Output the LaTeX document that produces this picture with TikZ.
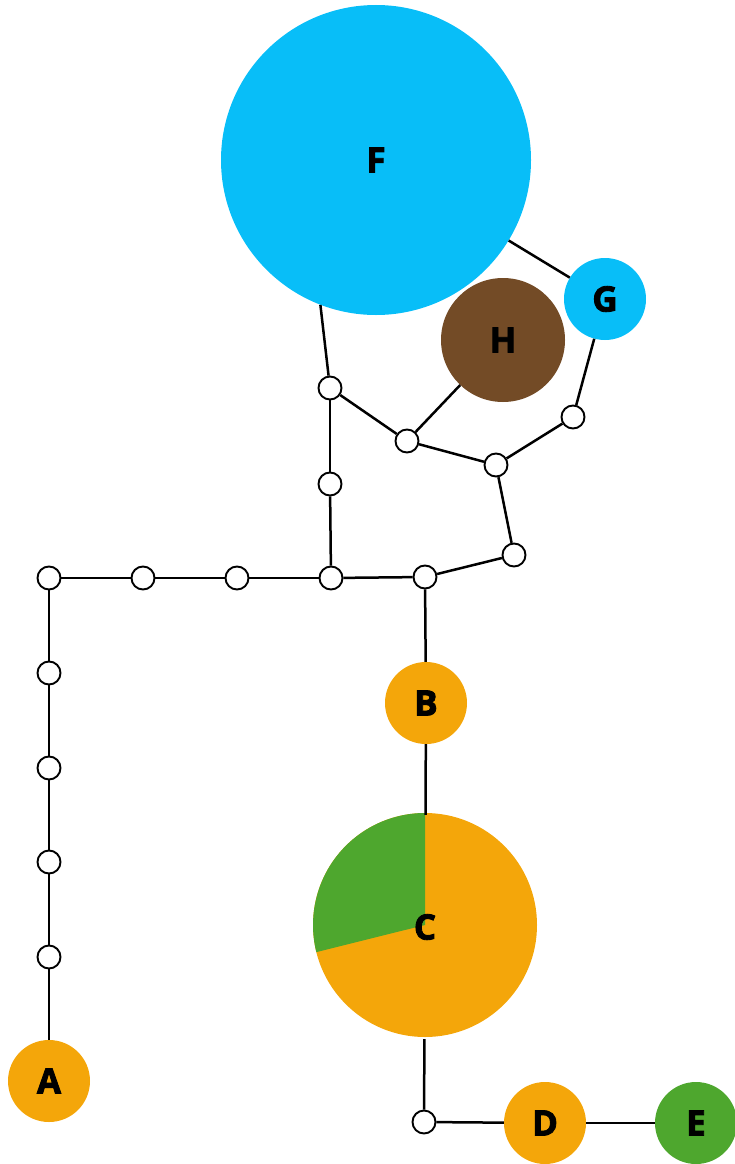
\documentclass[tikz,border=0pt]{standalone}
\usepackage{fontspec}
\setmainfont{Open Sans}
\newfontfamily\lblfont{Open Sans}[BoldFeatures={FakeBold=2.4}]
\definecolor{cblue}{RGB}{8,190,248}
\definecolor{corange}{RGB}{244,166,10}
\definecolor{cgreen}{RGB}{78,167,46}
\definecolor{cbrown}{RGB}{115,75,38}
\tikzset{
  big/.style={circle,inner sep=0pt,minimum size=#1,font=\lblfont\fontsize{35}{36}\selectfont\bfseries},
  dot/.style={circle,draw=black,fill=white,line width=1.9pt,inner sep=0pt,minimum size=23pt},
  edge/.style={draw=black,line width=2.5pt},
}
\begin{document}
\begin{tikzpicture}[x=1pt,y=1pt]
\useasboundingbox (0,0) rectangle (735,-1164);
% big nodes
\node[big=310pt,fill=cblue] (F) at (376,-160) {F};
\node[big=82pt,fill=cblue] (G) at (605,-299) {G};
\node[big=124pt,fill=cbrown] (H) at (503,-340) {H};
\node[big=82pt,fill=corange] (B) at (426,-703) {B};
\fill[corange] (425,-925) circle (112pt);
\fill[cgreen] (425,-925) -- ++(90:112pt) arc (90:194:112pt) -- cycle;
\node[big=224pt] (C) at (425,-927) {C};
\node[big=82pt,fill=corange] (A) at (49,-1081) {A};
\node[big=82pt,fill=corange] (D) at (545,-1123) {D};
\node[big=82pt,fill=cgreen] (E) at (696,-1123) {E};
% small junction nodes
\node[dot] (s1) at (330,-388) {};
\node[dot] (s2) at (407,-441) {};
\node[dot] (s3) at (496,-465) {};
\node[dot] (s4) at (573,-417) {};
\node[dot] (s5) at (330,-484) {};
\node[dot] (s6) at (514,-555) {};
\node[dot] (r1) at (49,-578) {};
\node[dot] (r2) at (143,-578) {};
\node[dot] (r3) at (237,-578) {};
\node[dot] (r4) at (331,-578) {};
\node[dot] (r5) at (425,-577) {};
\node[dot] (l1) at (49,-673) {};
\node[dot] (l2) at (49,-768) {};
\node[dot] (l3) at (49,-862) {};
\node[dot] (l4) at (49,-957) {};
\node[dot] (bot) at (424,-1122) {};
% connectors
\path[edge] (F) -- (G);
\path[edge] (F.249) -- (s1);
\path[edge] (s1) -- (s5);
\path[edge] (s5) -- (r4);
\path[edge] (s1) -- (s2);
\path[edge] (H) -- (s2);
\path[edge] (s2) -- (s3);
\path[edge] (s3) -- (s4);
\path[edge] (s4) -- (G);
\path[edge] (s3) -- (s6);
\path[edge] (s6) -- (r5);
\path[edge] (r1) -- (r2);
\path[edge] (r2) -- (r3);
\path[edge] (r3) -- (r4);
\path[edge] (r4) -- (r5);
\path[edge] (r5) -- (B);
\path[edge] (B) -- (C);
\path[edge] (C) -- (bot);
\path[edge] (bot) -- (D);
\path[edge] (D) -- (E);
\path[edge] (r1) -- (l1);
\path[edge] (l1) -- (l2);
\path[edge] (l2) -- (l3);
\path[edge] (l3) -- (l4);
\path[edge] (l4) -- (A);
\end{tikzpicture}
\end{document}
